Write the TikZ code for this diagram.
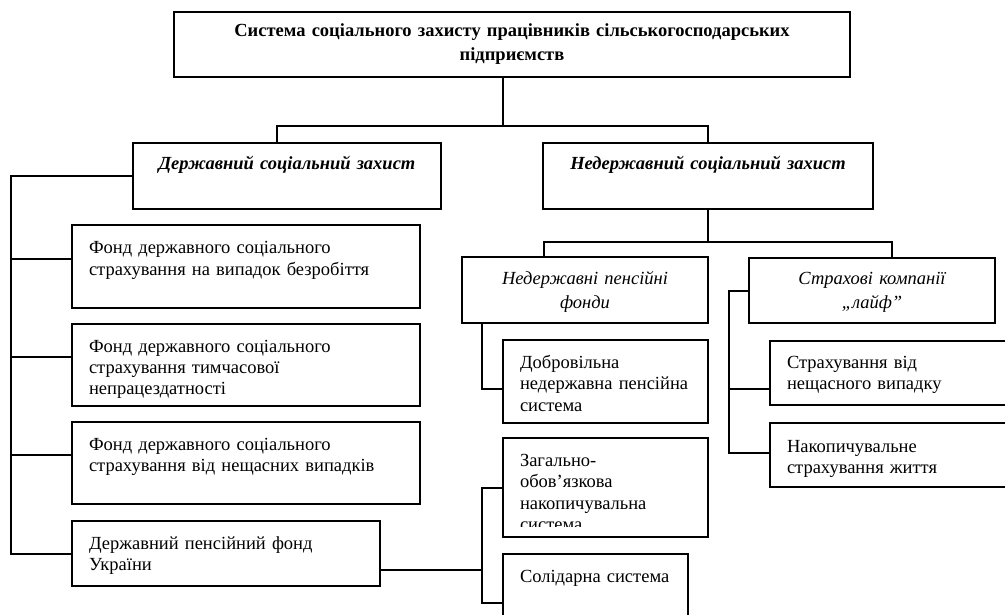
\documentclass[tikz,border=0pt]{standalone}
\usepackage{fontspec}
\setmainfont{Liberation Serif}
\newcommand\fsz{\fontsize{18.5pt}{21.5pt}\selectfont}
\newcommand\fszb{\fontsize{18.5pt}{24pt}\selectfont}
\begin{document}
\begin{tikzpicture}[x=1pt,y=-1pt,
  box/.style={draw, line width=1.5pt, inner xsep=17pt, inner ysep=0pt, outer sep=0pt,
    anchor=north west, align=left, font=\fsz},
  cbox/.style={box, align=center},
  conn/.style={line width=1.5pt, line cap=rect}]
\clip (0,0) rectangle (1005,615);
% top
\node[cbox, font=\fszb\bfseries, text width=642pt, text height=25pt, text depth=40pt] (T) at (174,12)
  {Система соціального захисту працівників сільськогосподарських\\підприємств};
% level 2
\node[cbox, font=\fszb\bfseries\itshape, text width=274pt, text height=27pt, text depth=39pt] (L2L) at (133,143)
  {Державний соціальний захист};
\node[cbox, font=\fszb\bfseries\itshape, text width=296pt, text height=27pt, text depth=39pt] (L2R) at (543,143)
  {Недержавний соціальний захист};
% level 3 right
\node[cbox, font=\fszb\itshape, text width=212pt, text height=27pt, text depth=39pt] (NPF) at (462,257)
  {Недержавні пенсійні\\фонди};
\node[cbox, font=\fszb\itshape, text width=212pt, text height=26pt, text depth=39pt] (SK) at (749,258)
  {Страхові компанії\\„лайф”};
% left column
\node[box, text width=314pt, text height=29pt, text depth=54pt] (B1) at (72,225)
  {Фонд державного соціального\\страхування на випадок безробіття};
\node[box, text width=314pt, text height=28pt, text depth=54pt] (B2) at (72,324)
  {Фонд державного соціального\\страхування тимчасової\\непрацездатності};
\node[box, text width=314pt, text height=28pt, text depth=54pt] (B3) at (72,422)
  {Фонд державного соціального\\страхування від нещасних випадків};
\node[box, text width=274pt, text height=28pt, text depth=37pt] (B4) at (72,521)
  {Державний пенсійний фонд\\України};
% middle column
\node[box, text width=171pt, text height=28pt, text depth=55pt] (DOB) at (503,340)
  {Добровільна\\недержавна пенсійна\\система};
\node[box, text width=171pt, text height=28pt, text depth=71pt] (ZAG) at (503,438) {};
\begin{scope}
  \clip (503,438) rectangle (708,526);
  \node[box, draw=none, text width=171pt, text height=28pt, text depth=71pt] (ZAGt) at (503,438)
    {Загально-\\обов’язкова\\накопичувальна\\система};
\end{scope}
\node[box, text width=151pt, text height=28pt, text depth=59pt] (SOL) at (503,554)
  {Солідарна система};
% right column
\node[box, text width=211pt, text height=27pt, text depth=37pt] (S1) at (770,341)
  {Страхування від\\нещасного випадку};
\node[box, text width=211pt, text height=29pt, text depth=35pt] (S2) at (770,423)
  {Накопичувальне\\страхування життя};
% connectors: top level
\coordinate (a1) at (277,126);
\coordinate (a2) at (708,126);
\coordinate (a0) at (503,126);
\draw[conn] (a0 |- T.south) -- (a0);
\draw[conn] (a1) -- (a2);
\draw[conn] (a1) -- (a1 |- L2L.north);
\draw[conn] (a2) -- (a2 |- L2R.north);
% second level
\coordinate (b1) at (544,242);
\coordinate (b2) at (892,242);
\draw[conn] (L2R.south) -- (L2R.south |- b1);
\draw[conn] (b1) -- (b2);
\draw[conn] (b1) -- (b1 |- NPF.north);
\draw[conn] (b2) -- (b2 |- SK.north);
% left bracket
\coordinate (c0) at (11,176);
\coordinate (c1) at (11,259);
\coordinate (c2) at (11,357);
\coordinate (c3) at (11,455);
\coordinate (c4) at (11,554);
\draw[conn] (c0 -| L2L.west) -- (c0) -- (c4) -- (c4 -| B4.west);
\draw[conn] (c1) -- (c1 -| B1.west);
\draw[conn] (c2) -- (c2 -| B2.west);
\draw[conn] (c3) -- (c3 -| B3.west);
% middle brackets
\coordinate (d0) at (482,389);
\draw[conn] (d0 |- NPF.south) -- (d0) -- (d0 -| DOB.west);
\coordinate (e1) at (482,488);
\coordinate (e2) at (482,603);
\coordinate (e3) at (482,570);
\draw[conn] (e1 -| ZAG.west) -- (e1) -- (e2) -- (e2 -| SOL.west);
\draw[conn] (e3 -| B4.east) -- (e3);
% right bracket
\coordinate (f0) at (729,291);
\coordinate (f1) at (729,389);
\coordinate (f2) at (729,453);
\draw[conn] (f0 -| SK.west) -- (f0) -- (f2) -- (f2 -| S2.west);
\draw[conn] (f1) -- (f1 -| S1.west);
\end{tikzpicture}
\end{document}
